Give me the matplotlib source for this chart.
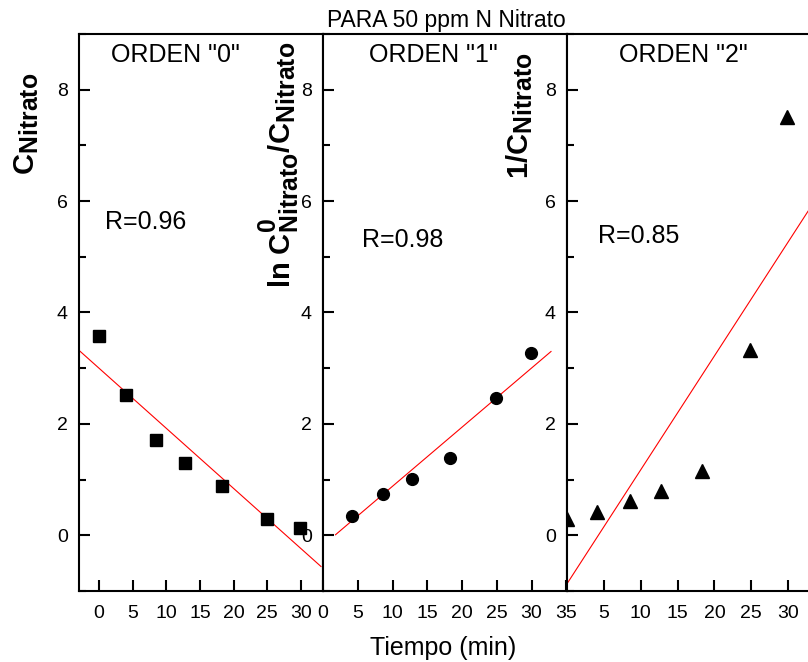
import matplotlib
matplotlib.use("Agg")
import matplotlib.pyplot as plt
from matplotlib.ticker import MultipleLocator
import matplotlib._mathtext as _mt

# Reference subscripts are only slightly smaller than the main letters
_mt.SHRINK_FACTOR = 0.85

plt.rcParams['font.family'] = ['Liberation Sans', 'DejaVu Sans']
plt.rcParams['mathtext.fontset'] = 'custom'
plt.rcParams['mathtext.rm'] = 'Liberation Sans'
plt.rcParams['mathtext.bf'] = 'Liberation Sans:bold'
plt.rcParams['mathtext.it'] = 'Liberation Sans:italic'

# ---- data ----
t_orden0 = [0, 4, 8.5, 12.7, 18.2, 24.9, 29.9]
c_nitrato = [3.58, 2.52, 1.71, 1.29, 0.89, 0.29, 0.13]
fit0_x = [-2.9, 33.0]
fit0_y = [3.31, -0.56]

t_orden1 = [4.1, 8.6, 12.8, 18.2, 24.9, 29.9]
ln_ratio = [0.35, 0.74, 1.01, 1.39, 2.46, 3.28]
fit1_x = [1.8, 32.8]
fit1_y = [0.01, 3.30]

t_orden2 = [0, 4.1, 8.6, 12.8, 18.3, 24.8, 29.9]
inv_c = [0.30, 0.42, 0.62, 0.80, 1.16, 3.33, 7.51]
fit2_x = [0, 33.0]
fit2_y = [-0.87, 5.88]

titles = ['ORDEN "0"', 'ORDEN "1"', 'ORDEN "2"']
r_texts = ['R=0.96', 'R=0.98', 'R=0.85']
ylabels = [r'$\mathbf{C_{Nitrato}}$',
           r'$\mathbf{ln\ C^{0}_{Nitrato}/C_{Nitrato}}$',
           r'$\mathbf{1/C_{Nitrato}}$']

W, H = 808, 662
fig = plt.figure(figsize=(W / 100, H / 100), dpi=100)

bottom = (H - 591) / H
height = (591 - 34) / H
lefts = [79, 323, 567]
pw = 244
xlims = [(-3.0, 33.3), (0, 35.1), (0, 33.1)]
xticks = [list(range(0, 35, 5)), list(range(0, 40, 5)), list(range(5, 35, 5))]

series = [(t_orden0, c_nitrato, 's', 8.5, fit0_x, fit0_y),
          (t_orden1, ln_ratio, 'o', 8.5, fit1_x, fit1_y),
          (t_orden2, inv_c, '^', 10.5, fit2_x, fit2_y)]
r_pos = [(0.85, 5.63), (5.6, 5.3), (4.2, 5.37)]

axes = []
for i in range(3):
    ax = fig.add_axes([lefts[i] / W, bottom, pw / W, height])
    axes.append(ax)
    xs, ys, mk, ms, fx, fy = series[i]
    ax.plot(fx, fy, color='red', lw=0.8, zorder=2)
    ax.plot(xs, ys, linestyle='none', marker=mk, ms=ms, color='black',
            markeredgecolor='black', zorder=3)
    ax.set_xlim(*xlims[i])
    ax.set_ylim(-1, 9)
    ax.set_xticks(xticks[i])
    ax.yaxis.set_major_locator(MultipleLocator(2))
    ax.yaxis.set_minor_locator(MultipleLocator(1))
    ax.tick_params(axis='y', which='major', direction='in', length=8, width=1.5,
                   labelsize=14, pad=8, left=True, right=False)
    ax.tick_params(axis='y', which='minor', direction='in', length=5, width=1.5,
                   left=True, right=False)
    ax.tick_params(axis='x', which='major', direction='in', length=8, width=1.5,
                   labelsize=14, pad=10, bottom=True, top=False)
    for sp in ax.spines.values():
        sp.set_linewidth(1.5)
    ax.text(r_pos[i][0], r_pos[i][1], r_texts[i], fontsize=18, ha='left', va='center')

# panel titles
for cx, ttl in zip([175, 433, 683], titles):
    fig.text(cx / W, 1 - 55 / H, ttl, fontsize=18, ha='center', va='center')

# y labels
for (cx, cy), lab in zip([(27, 124), (279, 165), (520, 116)], ylabels):
    fig.text(cx / W, 1 - cy / H, lab, fontsize=21, rotation=90,
             ha='center', va='center')

fig.text(446 / W, 1 - 20 / H, 'PARA 50 ppm N Nitrato', fontsize=16.5,
         ha='center', va='center')
fig.text(443 / W, 1 - 648 / H, 'Tiempo (min)', fontsize=18,
         ha='center', va='center')

fig.savefig('out.png', dpi=100)
